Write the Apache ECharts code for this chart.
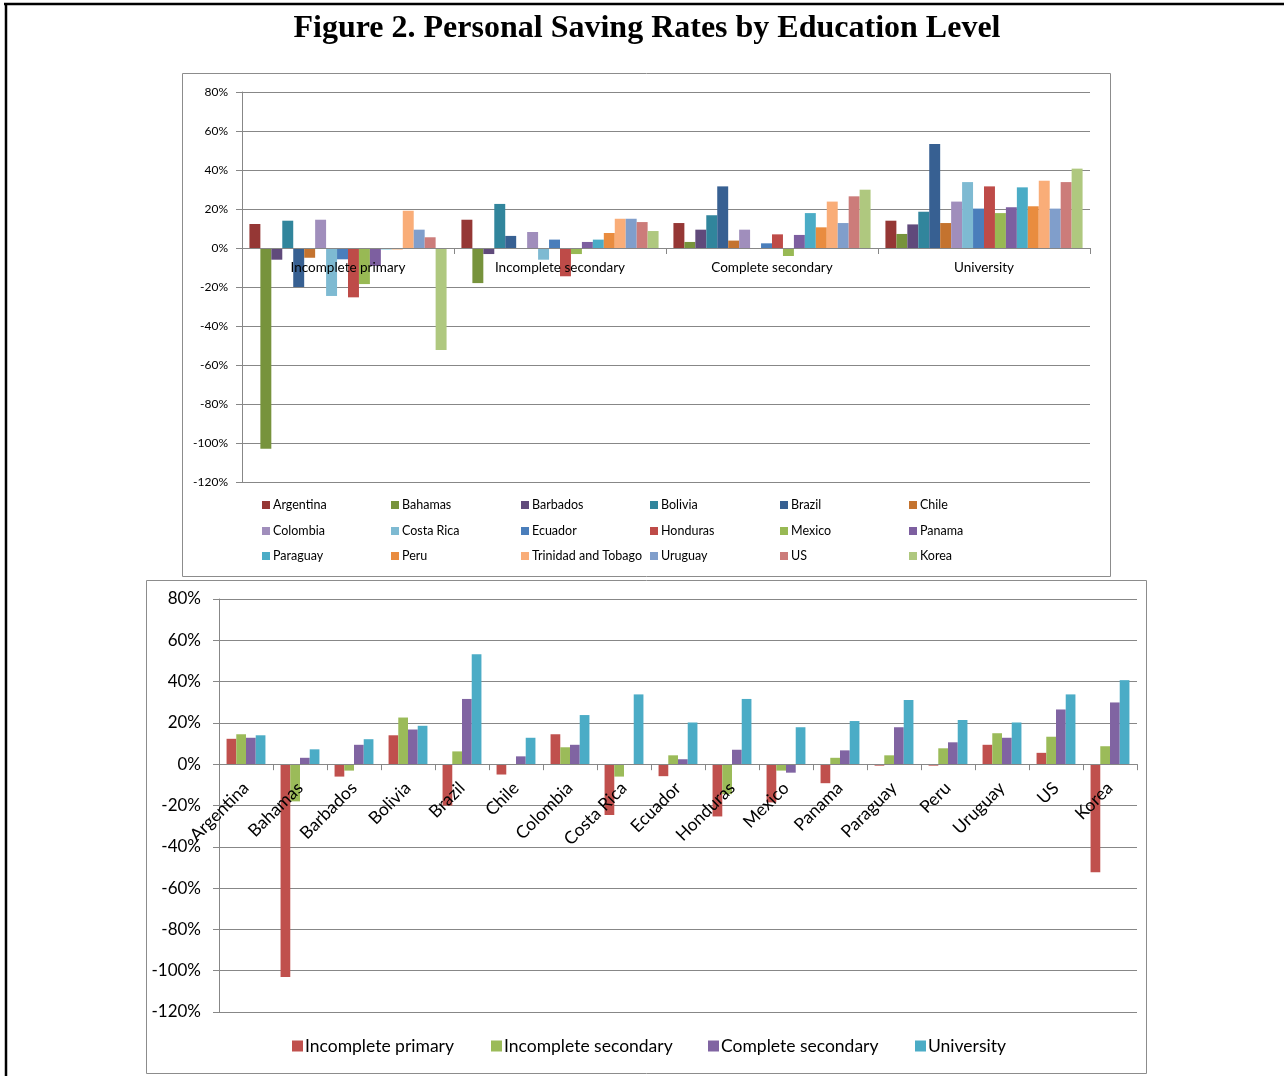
<!DOCTYPE html>
<html>
<head>
<meta charset="utf-8">
<script src="https://cdn.jsdelivr.net/npm/echarts@6/dist/echarts.min.js"></script>
<style>
html,body{margin:0;padding:0;background:#fff;}
#c{width:1284px;height:1076px;}
</style>
</head>
<body>
<div id="c"></div>
<script>
// ---- data (percent) ----
var countries = ['Argentina','Bahamas','Barbados','Bolivia','Brazil','Chile','Colombia','Costa Rica','Ecuador','Honduras','Mexico','Panama','Paraguay','Peru','Trinidad and Tobago','Uruguay','US','Korea'];
var levels = ['Incomplete primary','Incomplete secondary','Complete secondary','University'];
var incompletePrimary   = [12.3, -103, -6, 14, -20, -5, 14.5, -24.6, -5.8, -25.3, -18.5, -9.2, -0.7, -0.7, 19.1, 9.4, 5.5, -52.3];
var incompleteSecondary = [14.5, -18, -3.1, 22.6, 6.2, 0, 8.2, -6, 4.3, -14.5, -3.1, 3.1, 4.3, 7.7, 15, 15, 13.3, 8.7];
var completeSecondary   = [12.8, 3.1, 9.4, 16.8, 31.6, 3.8, 9.4, 0, 2.4, 7, -4.1, 6.7, 17.9, 10.6, 23.8, 12.8, 26.5, 29.9];
var university          = [14, 7.2, 12.1, 18.6, 53.3, 12.8, 23.8, 33.8, 20.2, 31.6, 17.9, 20.9, 31.1, 21.4, 34.5, 20.2, 33.8, 40.7];
var bottomCountries = ['Argentina','Bahamas','Barbados','Bolivia','Brazil','Chile','Colombia','Costa Rica','Ecuador','Honduras','Mexico','Panama','Paraguay','Peru','Uruguay','US','Korea'];
var yTicks = {min: -120, max: 80, interval: 20};

// ---- styles ----
var countryColors = ['#953735','#77933C','#604A7B','#31859C','#376092','#C4732F','#A08EBC','#7EBAD2','#4A7EBB','#BE4B48','#98B954','#7D5FA0','#4BACC6','#E98C3F','#F9AD78','#809ECB','#CC7C7A','#AFC87F'];
var levelColors = ['#C0504D','#9BBB59','#8064A2','#4BACC6'];
var FONT = 'Lato';
var GRID_C = '#878787';

var levelData = [incompletePrimary, incompleteSecondary, completeSecondary, university];

var series = [];
countries.forEach(function(c, i){
  series.push({
    name: c, type: 'bar', xAxisIndex: 0, yAxisIndex: 0,
    data: levelData.map(function(arr){ return arr[i]; }),
    itemStyle: {color: countryColors[i]},
    barGap: '0%', barCategoryGap: '7%'
  });
});
levels.forEach(function(l, j){
  series.push({
    name: l, type: 'bar', xAxisIndex: 1, yAxisIndex: 1,
    data: bottomCountries.map(function(c){ return levelData[j][countries.indexOf(c)]; }),
    itemStyle: {color: levelColors[j]},
    barGap: '0%', barCategoryGap: '28%'
  });
});

// top legends (6 columns x 3 rows)
var legends = [];
var colX = [262, 391, 521, 650, 780, 909];
var rowY = [505, 531, 556];
countries.forEach(function(c, i){
  var r = Math.floor(i / 6), col = i % 6;
  legends.push({
    data: [c], left: colX[col], top: rowY[r] - 7, padding: 0,
    itemWidth: 8, itemHeight: 8, icon: 'rect', itemGap: 0,
    selectedMode: false,
    textStyle: {fontFamily: FONT, fontSize: 12.5, color: '#000', lineHeight: 14, padding: [0,0,0,-2]}
  });
});
var botLegX = [292, 491, 708, 915];
levels.forEach(function(l, j){
  legends.push({
    data: [l], left: botLegX[j], top: 1046 - 9, padding: 0,
    itemWidth: 11, itemHeight: 11, icon: 'rect',
    selectedMode: false,
    textStyle: {fontFamily: FONT, fontSize: 17.5, color: '#000', lineHeight: 18, padding: [0,0,0,-3]}
  });
});

function yAxis(gi, fs, margin){
  return {
    type: 'value', gridIndex: gi, min: yTicks.min, max: yTicks.max, interval: yTicks.interval,
    axisLabel: {formatter: '{value}%', fontFamily: FONT, fontSize: fs, color: '#000', margin: margin},
    axisLine: {show: true, lineStyle: {color: GRID_C}},
    axisTick: {show: true, length: 6, lineStyle: {color: GRID_C}},
    splitLine: {show: true, lineStyle: {color: GRID_C, width: 1}}
  };
}

// zero-line offsets from grid bottom (so the category axis sits at 0%)
var topH = 390, botH = 413;
var topOff = -topH * (0 - yTicks.min) / (yTicks.max - yTicks.min);
var botOff = -botH * (0 - yTicks.min) / (yTicks.max - yTicks.min);

var option = {
  animation: false,
  backgroundColor: '#fff',
  title: {
    text: 'Figure 2. Personal Saving Rates by Education Level',
    left: 642, top: 8, textAlign: 'center',
    textStyle: {fontFamily: 'Liberation Serif', fontWeight: 'bold', fontSize: 32, color: '#000'}
  },
  legend: legends,
  grid: [
    {left: 242, right: 1284 - 1090, top: 92, height: topH, outerBoundsMode: 'none', containLabel: false},
    {left: 219, right: 1284 - 1137, top: 599, height: botH, outerBoundsMode: 'none', containLabel: false}
  ],
  xAxis: [
    {
      type: 'category', gridIndex: 0, data: levels, position: 'bottom', offset: topOff, z: 10,
      axisLine: {onZero: false, lineStyle: {color: GRID_C}},
      axisTick: {show: true, length: 6, lineStyle: {color: GRID_C}},
      axisLabel: {interval: 0, fontFamily: FONT, fontSize: 13.5, color: '#000', margin: 13}
    },
    {
      type: 'category', gridIndex: 1, data: bottomCountries, position: 'bottom', offset: botOff, z: 10,
      axisLine: {onZero: false, lineStyle: {color: GRID_C}},
      axisTick: {show: true, length: 6, lineStyle: {color: GRID_C}},
      axisLabel: {interval: 0, rotate: 45, fontFamily: FONT, fontSize: 17.5, color: '#000', margin: 21}
    }
  ],
  yAxis: [yAxis(0, 12, 14), yAxis(1, 17, 18)],
  series: series,
  graphic: [
    {type: 'line', shape: {x1: 4, y1: 4, x2: 1284, y2: 4}, style: {stroke: '#000', lineWidth: 2.5}, z: 100},
    {type: 'line', shape: {x1: 6, y1: 3, x2: 6, y2: 1076}, style: {stroke: '#000', lineWidth: 2.5}, z: 100},
    {type: 'rect', shape: {x: 182.5, y: 73.5, width: 928, height: 503}, style: {fill: null, stroke: '#8c8c8c', lineWidth: 1}, z: -1, silent: true},
    {type: 'rect', shape: {x: 146.5, y: 580.5, width: 1000, height: 493}, style: {fill: null, stroke: '#8c8c8c', lineWidth: 1}, z: -1, silent: true}
  ]
};

var chart = echarts.init(document.getElementById('c'), null, {renderer: 'canvas'});
chart.setOption(option);
</script>
</body>
</html>
